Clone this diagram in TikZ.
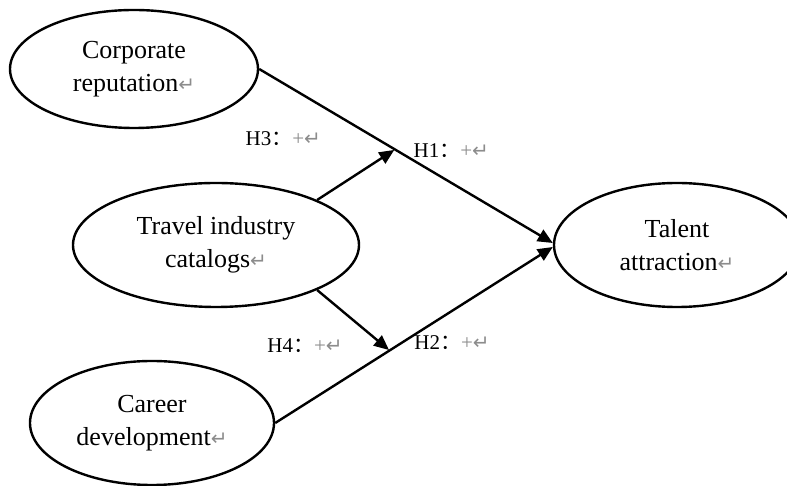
\documentclass[tikz,border=0pt]{standalone}
\usepackage{fontspec}
\setmainfont{Liberation Serif}
\newfontfamily\cjkfont{Noto Sans CJK SC}
\newfontfamily\markfont{DejaVu Sans}
\usetikzlibrary{shapes.geometric,arrows.meta,calc}

\newcommand{\retmark}{{\color{black!45}\markfont\fontsize{10}{10}\selectfont ↵}}
\newcommand{\hyplabel}[1]{H#1{\cjkfont ：}{\color{black!45}+}\retmark}

\tikzset{
  construct/.style={draw, ellipse, inner sep=0pt, align=center, font=\fontsize{13}{16.5}\selectfont},
  hyp/.style={font=\fontsize{10.5}{12}\selectfont, inner sep=0pt}
}

\begin{document}
\begin{tikzpicture}[node distance=88pt,>={Triangle[length=7.5pt,width=6.5pt]},line width=1.2pt]
        \useasboundingbox (-108pt,-120.5pt) rectangle (285.5pt,122.5pt);
        \node (catalogs) [construct, minimum width=143pt, minimum height=62pt] {Travel industry\\catalogs\retmark};
        \node (reputation) [construct, above of=catalogs, xshift=-41pt, minimum width=124pt, minimum height=59pt] {Corporate\\reputation\retmark};
        \node (career) [construct, below of=catalogs, xshift=-32pt, yshift=-1pt, minimum width=122pt, minimum height=62pt] {Career\\development\retmark};
        \node (talent) [construct, right of=catalogs, xshift=142.5pt, minimum width=123pt, minimum height=62pt] {Talent\\attraction\retmark};

        \draw[->] (reputation.east) -- ([yshift=1pt]talent.west);
        \draw[->] (career.east) -- ([yshift=-1pt]talent.west);

        \coordinate (m1) at ($(reputation.east)!0.46!(talent.west)$);
        \coordinate (m2) at ($(career.east)!0.41!(talent.west)$);
        \draw[->] (catalogs.24) -- (m1);
        \draw[->] (catalogs.-24) -- (m2);

        \node (h3) [hyp] at ($(m1)+(-55.5pt,5.5pt)$) {\hyplabel{3}};
        \node (h1) [hyp] at ($(m1)+(28.5pt,-0.5pt)$) {\hyplabel{1}};
        \node (h4) [hyp] at ($(m2)+(-42pt,2pt)$) {\hyplabel{4}};
        \node (h2) [hyp] at ($(m2)+(31.5pt,3.5pt)$) {\hyplabel{2}};
    \end{tikzpicture}
\end{document}
